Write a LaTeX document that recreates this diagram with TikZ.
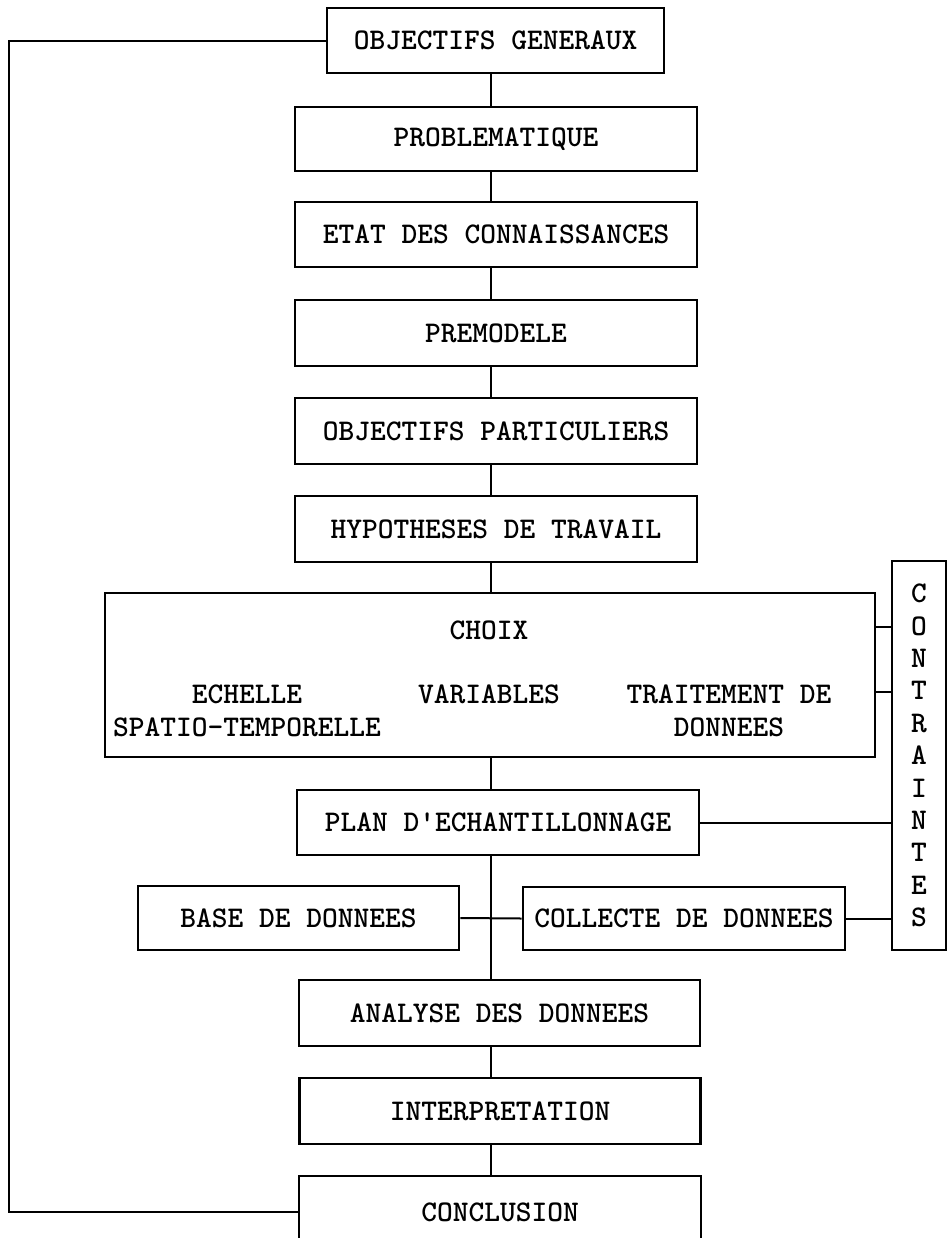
\documentclass[tikz,border=0pt]{standalone}
\usepackage{fontspec}
\usepackage{tikz}
\usetikzlibrary{positioning,calc}
\newcommand{\figbody}{\ttfamily\bfseries\fontsize{15pt}{16.5pt}\selectfont}
\newcommand{\figletters}{\ttfamily\bfseries\fontsize{15pt}{16.2pt}\selectfont}
\tikzset{
  mpBox/.style={draw=black, line width=1.3pt, align=center, font=\figbody,
    text=black, inner sep=0pt, minimum height=33pt},
  mpWide/.style={mpBox, minimum width=201pt},
  mpText/.style={font=\figbody, text=black, align=center, inner sep=0pt},
  mpLink/.style={draw=black, line width=1pt, line cap=butt}
}
\begin{document}
\begin{tikzpicture}[x=0.5pt,y=-0.5pt]
\useasboundingbox (0,0) rectangle (947,1238);
% main chain
\node[mpBox,minimum width=168.5pt,minimum height=32.5pt] (ogen) at (495.5,40.5) {OBJECTIFS GENERAUX};
\node[mpWide,minimum height=32pt] (prob) at (496,139) {PROBLEMATIQUE};
\node[mpWide,minimum height=32.5pt] (etat) at (496,234.5) {ETAT DES CONNAISSANCES};
\node[mpWide] (premod) at (496,333) {PREMODELE};
\node[mpWide] (objpart) at (496,431) {OBJECTIFS PARTICULIERS};
\node[mpWide] (hyp) at (496,529) {HYPOTHESES DE TRAVAIL};
% choix block
\node[mpBox,minimum width=385pt,minimum height=82pt] (choix) at (490,675) {};
\node[mpText] (choixT) at (489,630) {CHOIX};
\node[mpText] (echelle) at (247,710.5) {ECHELLE\\SPATIO-TEMPORELLE};
\node[mpText] (variables) at (489,694) {VARIABLES};
\node[mpText] (traitement) at (729,710.5) {TRAITEMENT DE\\DONNEES};
\node[mpBox,minimum width=27pt,minimum height=194.5pt,font=\figletters] (cont) at (919,755.5)
  {C\\O\\N\\T\\R\\A\\I\\N\\T\\E\\S};
% lower part
\node[mpWide,minimum height=32.5pt] (plan) at (498,822.5) {PLAN D'ECHANTILLONNAGE};
\node[mpBox,minimum width=160.5pt,minimum height=32pt] (base) at (298.5,918) {BASE DE DONNEES};
\node[mpBox,minimum width=161pt,minimum height=31.5pt] (coll) at (684,918.5) {COLLECTE DE DONNEES};
\node[mpBox,minimum width=200.5pt] (analyse) at (499.5,1013) {ANALYSE DES DONNEES};
\node[mpBox,minimum width=200.5pt] (interp) at (500,1111) {INTERPRETATION};
\node[mpBox,minimum width=201pt,minimum height=36pt] (concl) at (500,1212) {CONCLUSION};
% connectors
\coordinate (spine) at (491,0);
\coordinate (loopx) at (9,600);
\draw[mpLink] (ogen.south -| spine) -- (prob.north -| spine);
\draw[mpLink] (prob.south -| spine) -- (etat.north -| spine);
\draw[mpLink] (etat.south -| spine) -- (premod.north -| spine);
\draw[mpLink] (premod.south -| spine) -- (objpart.north -| spine);
\draw[mpLink] (objpart.south -| spine) -- (hyp.north -| spine);
\draw[mpLink] (hyp.south -| spine) -- (choix.north -| spine);
\draw[mpLink] (choix.south -| spine) -- (plan.north -| spine);
\draw[mpLink] (plan.south -| spine) -- (analyse.north -| spine);
\draw[mpLink] (base.east) -- (coll.west);
\draw[mpLink] (analyse.south -| spine) -- (interp.north -| spine);
\draw[mpLink] (interp.south -| spine) -- (concl.north -| spine);
\coordinate (tieA) at ([yshift=24pt]choix.east);
\coordinate (tieB) at ([yshift=-8.5pt]choix.east);
\draw[mpLink] (tieA) -- (tieA -| cont.west);
\draw[mpLink] (tieB) -- (tieB -| cont.west);
\draw[mpLink] (plan.east) -- (plan.east -| cont.west);
\draw[mpLink] (coll.east) -- (coll.east -| cont.west);
\draw[mpLink] (ogen.west) -| (loopx) |- (concl.west);
\end{tikzpicture}
\end{document}
